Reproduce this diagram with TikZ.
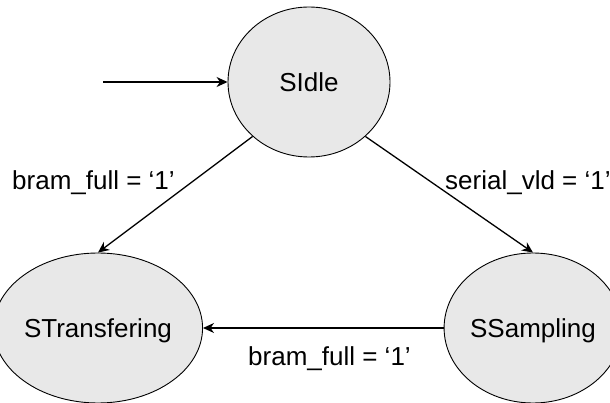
\documentclass[tikz,border=0pt]{standalone}
\usepackage{fontspec}
\setmainfont{Liberation Sans}
\usetikzlibrary{shapes.geometric,arrows.meta}
\definecolor{stategray}{HTML}{E8E8E8}
\begin{document}
\begin{tikzpicture}[x=1pt,y=-1pt,
  state/.style={ellipse, draw=black, line width=0.9pt, fill=stategray,
    minimum width=162pt, minimum height=150pt, inner sep=0pt,
    text height=18.6pt, text depth=0pt,
    font=\fontsize{26}{30}\selectfont},
  trans/.style={line width=1.3pt,
    -{Stealth[length=11pt,width=10pt,inset=3.5pt]}},
  cond/.style={anchor=base west, inner sep=0pt,
    font=\fontsize{26}{30}\selectfont}]
  \useasboundingbox (0,0) rectangle (610,403);

  % states
  \node[state] (idle) at (309,82) {SIdle};
  \node[state] (xfer) at (98,328) {STransfering};
  \node[state] (samp) at (533,328) {SSampling};

  % initial transition
  \coordinate (init) at (103,82);
  \draw[trans] (init) -- (idle.west);

  % transitions between states
  \draw[trans] (idle.224) -- (xfer.north);
  \draw[trans] (idle.-44) -- (samp.north);
  \draw[trans] (samp.west) -- (xfer.east);

  % transition conditions
  \node[cond] (c1) at (12,190) {bram\_full = ‘1’};
  \node[cond] (c2) at (445,190) {serial\_vld = ‘1’};
  \node[cond] (c3) at (248,365) {bram\_full = ‘1’};
\end{tikzpicture}
\end{document}
